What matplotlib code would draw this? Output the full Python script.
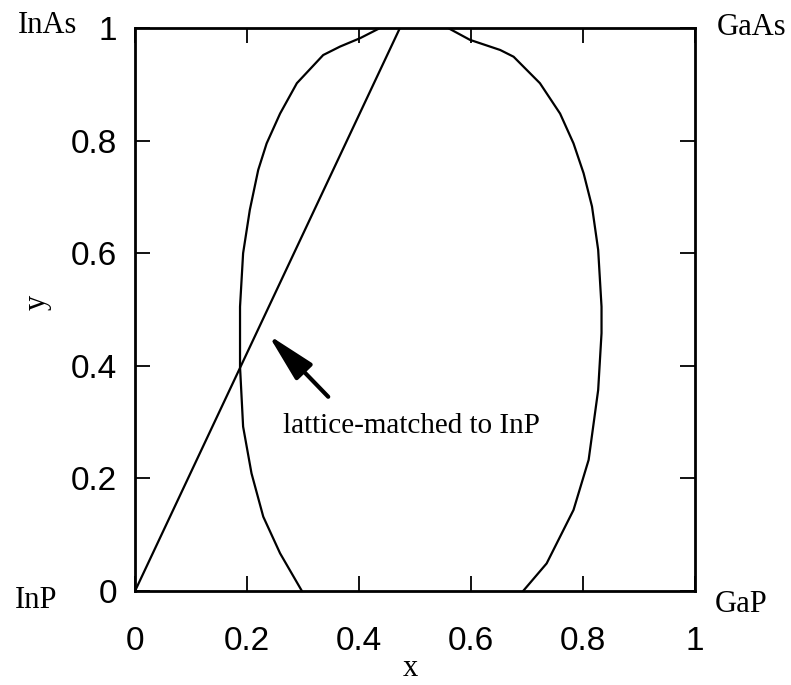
import matplotlib
matplotlib.use("Agg")
import matplotlib.pyplot as plt

# miscibility boundary (x, y), traced bottom-left -> top -> bottom-right
gap_x = [0.298, 0.259, 0.229, 0.208, 0.193, 0.1875, 0.1875, 0.193, 0.205, 0.220,
         0.235, 0.259, 0.289, 0.336, 0.366, 0.402, 0.4375, 0.559, 0.598, 0.652,
         0.676, 0.723, 0.759, 0.783, 0.801, 0.816, 0.827, 0.833, 0.833, 0.827,
         0.810, 0.783, 0.735, 0.693]
gap_y = [0.0, 0.067, 0.132, 0.209, 0.292, 0.398, 0.505, 0.600, 0.677, 0.748,
         0.795, 0.848, 0.902, 0.952, 0.967, 0.982, 1.0, 1.0, 0.979, 0.961,
         0.949, 0.902, 0.848, 0.795, 0.742, 0.683, 0.606, 0.505, 0.458, 0.357,
         0.233, 0.144, 0.049, 0.0]

# compositions lattice-matched to InP
lm_x = [0.0, 0.473]
lm_y = [0.0, 1.0]

ticks = [0, 0.2, 0.4, 0.6, 0.8, 1]
tick_labels = ["0", "0.2", "0.4", "0.6", "0.8", "1"]

serif = "Liberation Serif"
sans = "Liberation Sans"

fig = plt.figure(figsize=(7.91, 6.85), dpi=100)
ax = fig.add_axes([0.1707, 0.1372, 0.7080, 0.8219])

ax.plot(gap_x, gap_y, color="k", lw=1.6)
ax.plot(lm_x, lm_y, color="k", lw=1.6)

ax.set_xlim(0, 1)
ax.set_ylim(0, 1)
ax.set_xticks(ticks)
ax.set_yticks(ticks)
ax.set_xticklabels(tick_labels, fontfamily=sans, fontsize=24)
ax.set_yticklabels(tick_labels, fontfamily=sans, fontsize=24)
ax.tick_params(direction="in", length=11, width=1.3, top=True, right=True)
ax.tick_params(axis="x", pad=25)
ax.tick_params(axis="y", pad=13)
for sp in ax.spines.values():
    sp.set_linewidth(2)

ax.text(0.491, -0.137, "x", transform=ax.transAxes, ha="center", va="center",
        fontfamily=serif, fontsize=22)
ax.text(-0.175, 0.512, "y", transform=ax.transAxes, ha="center", va="center",
        rotation=90, fontfamily=serif, fontsize=22)

# arrow + note
ax.annotate("", xy=(0.238, 0.455), xytext=(0.345, 0.345),
            arrowprops=dict(arrowstyle="-|>,head_length=1.5,head_width=0.35",
                            mutation_scale=20, lw=3, color="k",
                            shrinkA=0, shrinkB=0))
ax.text(0.264, 0.281, "lattice-matched to InP", ha="left", va="baseline",
        fontfamily=serif, fontsize=21)

# end-member compounds at the corners
fig.text(0.0228, 0.952, "InAs", fontfamily=serif, fontsize=22, va="baseline")
fig.text(0.9064, 0.949, "GaAs", fontfamily=serif, fontsize=22, va="baseline")
fig.text(0.019, 0.1124, "InP", fontfamily=serif, fontsize=22, va="baseline")
fig.text(0.904, 0.1066, "GaP", fontfamily=serif, fontsize=22, va="baseline")

fig.savefig("out.png", dpi=100)
